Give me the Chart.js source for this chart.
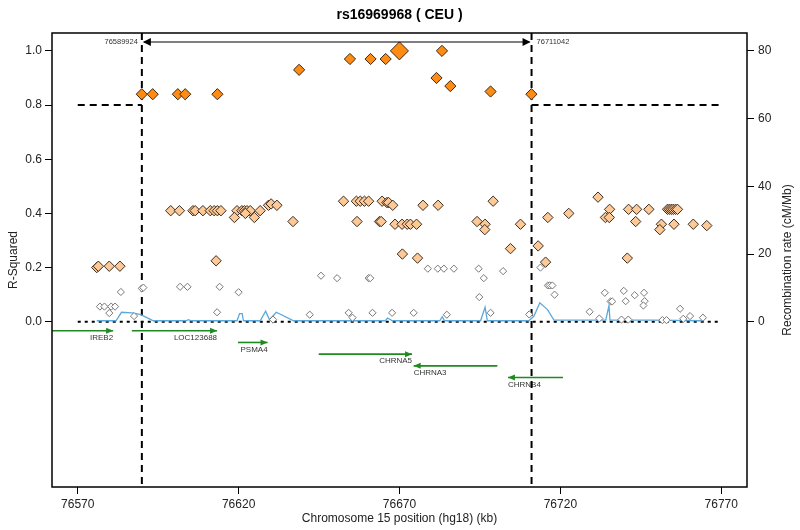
<!DOCTYPE html>
<html>
<head>
<meta charset="utf-8">
<title>rs16969968 ( CEU )</title>
<script src="https://cdn.jsdelivr.net/npm/chart.js@4.4.1/dist/chart.umd.min.js"></script>
<style>
  html, body { margin: 0; padding: 0; background: #fff; }
  canvas { display: block; }
</style>
</head>
<body>
<canvas id="ldChart" width="800" height="530"></canvas>
<script>
// ---- data (kb on chromosome 15, hg18) ----
const titleText = "rs16969968 ( CEU )";

// lead SNP
const leadPos = [76669.98];
const leadR2 = [1.0];

// r2 >= 0.8
const strongPos = [76589.9, 76593.3, 76601.1, 76603.4, 76613.4, 76638.8, 76654.6, 76661.0, 76665.7,
                   76681.5, 76683.2, 76685.8, 76698.3, 76711.0];
const strongR2 = [0.84, 0.84, 0.84, 0.84, 0.84, 0.93, 0.97, 0.97, 0.97,
                  0.90, 1.0, 0.87, 0.85, 0.84];

// 0.2 <= r2 < 0.8
const modPos = [76575.9, 76576.4, 76579.8, 76583.1,
                76598.9, 76601.6, 76605.8, 76606.5, 76608.9, 76611.2, 76612.4, 76613.4, 76614.5,
                76619.5, 76621.0, 76621.8, 76622.6, 76623.6, 76626.7,
                76629.3, 76630.1, 76631.9, 76622.1, 76618.7, 76624.9,
                76636.9, 76656.8, 76663.8, 76664.3, 76694.1,
                76652.6, 76656.6, 76657.8, 76659.1, 76660.4, 76664.6, 76666.1, 76699.1,
                76666.6, 76667.9, 76677.3, 76682.0,
                76668.6, 76670.8, 76672.4, 76673.4, 76675.3, 76696.6, 76707.6,
                76751.4, 76755.3, 76761.3, 76765.5,
                76696.5, 76750.9, 76670.9, 76675.6, 76704.5, 76613.0,
                76731.7, 76716.1, 76722.6,
                76735.3, 76741.2, 76743.7, 76747.5, 76753.3, 76753.9, 76754.5, 76755.1, 76755.8, 76756.4,
                76734.0, 76735.2, 76743.4, 76713.1, 76715.4, 76740.8];
const modR2 = [0.20, 0.205, 0.205, 0.205,
               0.41, 0.41, 0.41, 0.41, 0.41, 0.41, 0.41, 0.41, 0.41,
               0.41, 0.41, 0.41, 0.41, 0.41, 0.41,
               0.43, 0.435, 0.43, 0.40, 0.385, 0.385,
               0.37, 0.37, 0.37, 0.37, 0.37,
               0.445, 0.445, 0.445, 0.445, 0.445, 0.445, 0.44, 0.445,
               0.44, 0.43, 0.43, 0.43,
               0.36, 0.36, 0.36, 0.36, 0.36, 0.36, 0.36,
               0.36, 0.36, 0.36, 0.355,
               0.34, 0.34, 0.25, 0.235, 0.27, 0.225,
               0.46, 0.385, 0.40,
               0.415, 0.415, 0.415, 0.415, 0.415, 0.415, 0.415, 0.415, 0.415, 0.415,
               0.385, 0.385, 0.37, 0.28, 0.22, 0.235];

// r2 < 0.2
const weakPos = [76583.4, 76589.9, 76590.4, 76601.8, 76604.1,
                 76576.9, 76578.3, 76580.4, 76581.6, 76579.8, 76587.5,
                 76614.1, 76620.0, 76613.3, 76630.7,
                 76645.6, 76650.6, 76642.1, 76654.2, 76655.4, 76660.4, 76660.9,
                 76678.8, 76681.9, 76683.8, 76686.9, 76694.6, 76696.2, 76702.2, 76694.8,
                 76661.6, 76667.7, 76674.4, 76684.7, 76698.3,
                 76713.8, 76716.1, 76716.7, 76717.5, 76718.2, 76710.3,
                 76729.1, 76732.1, 76733.8, 76735.6, 76736.1, 76739.7, 76740.3, 76743.1,
                 76746.0, 76746.2, 76745.8, 76739.0, 76741.1, 76751.7, 76753.0,
                 76757.2, 76758.2, 76760.3, 76764.3];
const weakR2 = [0.11, 0.123, 0.126, 0.129, 0.129,
                0.056, 0.056, 0.056, 0.056, 0.032, 0.021,
                0.129, 0.109, 0.035, 0.008,
                0.17, 0.161, 0.026, 0.033, 0.015, 0.161, 0.161,
                0.196, 0.196, 0.196, 0.196, 0.196, 0.161, 0.187, 0.091,
                0.033, 0.033, 0.033, 0.026, 0.033,
                0.20, 0.134, 0.134, 0.134, 0.10, 0.027,
                0.037, 0.012, 0.107, 0.075, 0.075, 0.114, 0.076, 0.098,
                0.107, 0.076, 0.06, 0.008, 0.008, 0.006, 0.006,
                0.048, 0.011, 0.021, 0.015];

// recombination rate (cM/Mb)
const recPos = [76575.9, 76581.9, 76583.6, 76586.8, 76589.4, 76591.5, 76593.5,
                76603.7, 76604.4, 76605.2, 76619.5, 76620.3, 76621.1, 76621.5,
                76626.7, 76628.4, 76629.6, 76631.7, 76637.1,
                76665.6, 76666.3, 76667.8, 76682.5, 76683.3, 76684.0,
                76695.2, 76696.6, 76697.3, 76710.2, 76711.8, 76713.6, 76716.0, 76718.0,
                76734.1, 76735.1, 76735.4, 76748.1, 76764.1];
const recRate = [0.3, 0.3, 2.8, 2.6, 2.2, 1.2, 0.3,
                 0.3, 0.6, 0.3, 0.3, 2.4, 2.4, 0.3,
                 0.3, 3.1, 0.6, 2.8, 0.3,
                 0.3, 1.1, 0.3, 0.3, 1.5, 0.3,
                 0.3, 4.3, 0.3, 0.3, 1.7, 5.6, 3.6, 0.5,
                 0.5, 4.8, 0.5, 0.5, 0.3];

// genes
const geneNames = ["IREB2", "LOC123688", "PSMA4", "CHRNA5", "CHRNA3", "CHRNB4"];
const geneStart = [76516.0, 76586.8, 76619.8, 76644.9, 76674.4, 76703.7];
const geneEnd = [76581.0, 76613.3, 76629.0, 76673.9, 76700.4, 76720.8];
const geneStrand = ["+", "+", "+", "+", "-", "-"];
const geneRow = [0, 0, 1, 2, 3, 4];

// region bounds and threshold
const boundaryPos = [76589.924, 76711.042];
const boundaryLabels = ["76589924", "76711042"];
const r2Threshold = 0.8;

// axes
const xTicks = [76570, 76620, 76670, 76720, 76770];
const r2Ticks = [0.0, 0.2, 0.4, 0.6, 0.8, 1.0];
const recTicks = [0, 20, 40, 60, 80];
const recMax = 80;   // 80 cM/Mb lines up with r2 = 1.0

document.addEventListener("DOMContentLoaded", function () {

    const fontFamily = "'Liberation Sans', Arial, Helvetica, sans-serif";
    const xMin = 76562, xMax = 76778;     // R-style 4% padding around 76570..76770
    const yMin = -0.61, yMax = 1.066;

    const toPoints = (xs, ys) => xs.map((v, i) => ({ x: v, y: ys[i] }));

    // 주석, 유전자, 외곽선 그리기
    const overlayPlugin = {
        id: "overlay",
        beforeDatasetsDraw(chart) {
            const { ctx, chartArea, scales } = chart;
            const sx = scales.x, sy = scales.y;
            const y0 = sy.getPixelForValue(0);

            ctx.save();
            ctx.beginPath();
            ctx.rect(chartArea.left, chartArea.top, chartArea.right - chartArea.left, chartArea.bottom - chartArea.top);
            ctx.clip();

            // genes
            geneNames.forEach((name, i) => {
                const gy = y0 + 9 + geneRow[i] * 11.7;
                const a = sx.getPixelForValue(geneStart[i]);
                const b = sx.getPixelForValue(geneEnd[i]);
                const tip = geneStrand[i] === "+" ? b : a;
                const dir = geneStrand[i] === "+" ? 1 : -1;
                ctx.strokeStyle = "#1f8a1f";
                ctx.fillStyle = "#1f8a1f";
                ctx.lineWidth = 1.6;
                ctx.setLineDash([]);
                ctx.beginPath();
                ctx.moveTo(a, gy);
                ctx.lineTo(b, gy);
                ctx.stroke();
                ctx.beginPath();
                ctx.moveTo(tip, gy);
                ctx.lineTo(tip - dir * 7, gy - 3);
                ctx.lineTo(tip - dir * 7, gy + 3);
                ctx.closePath();
                ctx.fill();

                ctx.fillStyle = "#333";
                ctx.font = "8px " + fontFamily;
                ctx.textBaseline = "middle";
                ctx.textAlign = dir > 0 ? "right" : "left";
                ctx.fillText(name, tip, gy + 7);
            });

            // dotted zero line
            ctx.strokeStyle = "#000";
            ctx.lineWidth = 2;
            ctx.setLineDash([3, 4]);
            ctx.beginPath();
            ctx.moveTo(sx.getPixelForValue(xTicks[0]), y0);
            ctx.lineTo(sx.getPixelForValue(xTicks[xTicks.length - 1]), y0);
            ctx.stroke();

            // dashed threshold outside the region
            const yt = sy.getPixelForValue(r2Threshold);
            ctx.setLineDash([7, 5]);
            ctx.beginPath();
            ctx.moveTo(sx.getPixelForValue(xTicks[0]), yt);
            ctx.lineTo(sx.getPixelForValue(boundaryPos[0]), yt);
            ctx.moveTo(sx.getPixelForValue(boundaryPos[1]), yt);
            ctx.lineTo(sx.getPixelForValue(xTicks[xTicks.length - 1]), yt);
            ctx.stroke();

            // region bounds
            ctx.beginPath();
            boundaryPos.forEach(p => {
                const px = sx.getPixelForValue(p);
                ctx.moveTo(px, chartArea.top);
                ctx.lineTo(px, chartArea.bottom);
            });
            ctx.stroke();
            ctx.restore();
        },
        afterDraw(chart) {
            const { ctx, chartArea, scales } = chart;
            const sx = scales.x;
            const left = sx.getPixelForValue(boundaryPos[0]);
            const right = sx.getPixelForValue(boundaryPos[1]);
            const ay = chartArea.top + 9;

            ctx.save();
            // region arrow
            ctx.strokeStyle = "#000";
            ctx.fillStyle = "#000";
            ctx.lineWidth = 1;
            ctx.setLineDash([]);
            ctx.beginPath();
            ctx.moveTo(left + 2, ay);
            ctx.lineTo(right - 2, ay);
            ctx.stroke();
            [[left + 1, 1], [right - 1, -1]].forEach(([tx, d]) => {
                ctx.beginPath();
                ctx.moveTo(tx, ay);
                ctx.lineTo(tx + d * 8, ay - 4);
                ctx.lineTo(tx + d * 8, ay + 4);
                ctx.closePath();
                ctx.fill();
            });
            ctx.fillStyle = "#333";
            ctx.font = "7.5px " + fontFamily;
            ctx.textBaseline = "middle";
            ctx.textAlign = "right";
            ctx.fillText(boundaryLabels[0], left - 4, ay);
            ctx.textAlign = "left";
            ctx.fillText(boundaryLabels[1], right + 5, ay);

            // frame
            ctx.strokeStyle = "#000";
            ctx.lineWidth = 1.5;
            ctx.strokeRect(chartArea.left, chartArea.top, chartArea.right - chartArea.left, chartArea.bottom - chartArea.top);

            // title
            ctx.fillStyle = "#000";
            ctx.font = "bold 14px " + fontFamily;
            ctx.textAlign = "center";
            ctx.textBaseline = "middle";
            ctx.fillText(titleText, (chartArea.left + chartArea.right) / 2, 15);

            // axis titles
            ctx.fillStyle = "#222";
            ctx.font = "12px " + fontFamily;
            ctx.fillText("Chromosome 15 position (hg18) (kb)", (chartArea.left + chartArea.right) / 2, 519);
            const midY = (chartArea.top + chartArea.bottom) / 2;
            ctx.save();
            ctx.translate(14, midY);
            ctx.rotate(-Math.PI / 2);
            ctx.fillText("R-Squared", 0, 0);
            ctx.restore();
            ctx.save();
            ctx.translate(788, midY);
            ctx.rotate(-Math.PI / 2);
            ctx.fillText("Recombination rate (cM/Mb)", 0, 0);
            ctx.restore();
            ctx.restore();
        }
    };

    const tickFont = { family: fontFamily, size: 12 };
    const tickGrid = { drawOnChartArea: false, drawTicks: true, tickLength: 7, color: "#000", lineWidth: 1 };

    new Chart(document.getElementById("ldChart"), {
        type: "scatter",
        data: {
            datasets: [
                {
                    type: "line",
                    label: "Recombination rate",
                    data: toPoints(recPos, recRate),
                    yAxisID: "y2",
                    borderColor: "#5aa9dc",
                    borderWidth: 1.3,
                    pointRadius: 0,
                    tension: 0,
                    fill: false,
                    order: 5
                },
                {
                    label: "r2 < 0.2",
                    data: toPoints(weakPos, weakR2),
                    pointStyle: "rectRot",
                    radius: 3.6,
                    backgroundColor: "#ffffff",
                    borderColor: "#787878",
                    borderWidth: 1,
                    order: 4
                },
                {
                    label: "0.2 - 0.8",
                    data: toPoints(modPos, modR2),
                    pointStyle: "rectRot",
                    radius: 5.2,
                    backgroundColor: "#fdc996",
                    borderColor: "#3a2c22",
                    borderWidth: 1,
                    order: 3
                },
                {
                    label: "r2 >= 0.8",
                    data: toPoints(strongPos, strongR2),
                    pointStyle: "rectRot",
                    radius: 5.6,
                    backgroundColor: "#ff8c12",
                    borderColor: "#3a2614",
                    borderWidth: 1,
                    order: 2
                },
                {
                    label: "rs16969968",
                    data: toPoints(leadPos, leadR2),
                    pointStyle: "rectRot",
                    radius: 9,
                    backgroundColor: "#ff8c12",
                    borderColor: "#3a2614",
                    borderWidth: 1,
                    order: 1
                }
            ]
        },
        options: {
            responsive: false,
            animation: false,
            events: [],
            layout: { padding: { top: 33, left: 0, right: 0, bottom: 0 } },
            plugins: {
                legend: { display: false },
                title: { display: false },
                tooltip: { enabled: false }
            },
            scales: {
                x: {
                    type: "linear",
                    min: xMin,
                    max: xMax,
                    afterBuildTicks: s => { s.ticks = xTicks.map(v => ({ value: v })); },
                    afterFit: s => { s.height = 43; },
                    ticks: { color: "#222", font: tickFont, padding: 3, maxRotation: 0, autoSkip: false, callback: v => String(v) },
                    grid: tickGrid,
                    border: { display: false }
                },
                y: {
                    type: "linear",
                    position: "left",
                    min: yMin,
                    max: yMax,
                    afterBuildTicks: s => { s.ticks = r2Ticks.map(v => ({ value: v })); },
                    afterFit: s => { s.width = 52; },
                    ticks: { color: "#222", font: tickFont, padding: 3, autoSkip: false, callback: v => Number(v).toFixed(1) },
                    grid: tickGrid,
                    border: { display: false }
                },
                y2: {
                    type: "linear",
                    position: "right",
                    min: yMin * recMax,
                    max: yMax * recMax,
                    afterBuildTicks: s => { s.ticks = recTicks.map(v => ({ value: v })); },
                    afterFit: s => { s.width = 53; },
                    ticks: { color: "#222", font: tickFont, padding: 4, autoSkip: false, callback: v => String(v) },
                    grid: tickGrid,
                    border: { display: false }
                }
            }
        },
        plugins: [overlayPlugin]
    });
});
</script>
</body>
</html>
